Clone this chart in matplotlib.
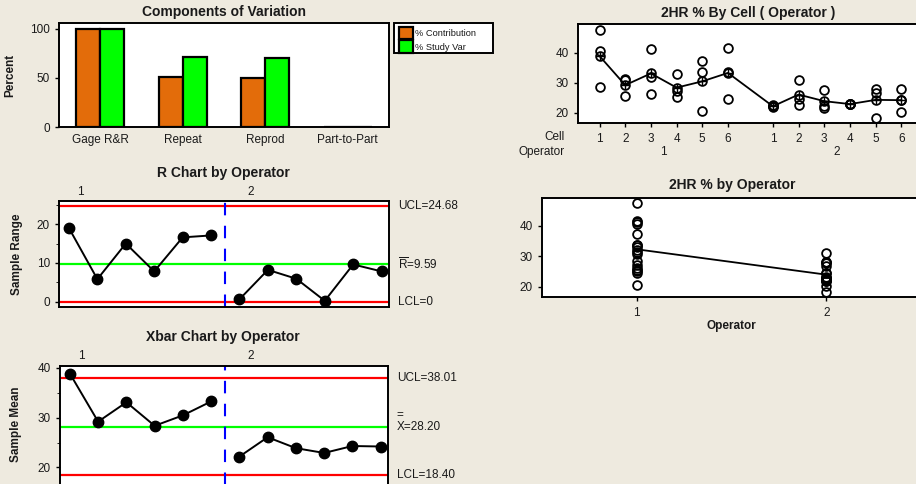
import numpy as np
import matplotlib
matplotlib.use('Agg')
import matplotlib.pyplot as plt
from matplotlib.patches import Rectangle
from matplotlib.transforms import blended_transform_factory, offset_copy

plt.rcParams['font.family'] = ['Liberation Sans', 'DejaVu Sans']

W, H = 916, 484
BG = '#EEEADF'
ORANGE = '#E36C0A'
GREEN = '#00FF00'
RED = '#FF0000'
BLUE = '#0000FF'
TXT = '#1a1a1a'

# components of variation, percent
components = ['Gage R&R', 'Repeat', 'Reprod', 'Part-to-Part']
pct_contribution = [100.0, 50.5, 49.5, 0.0]
pct_study_var = [100.0, 71.1, 70.4, 0.0]
legend_labels = ['% Contribution', '% Study Var']

# 2HR % readings, 3 trials per cell, cells 1-6 per operator
operators = [1, 2]
cells = [1, 2, 3, 4, 5, 6]
op1_readings = [
    [47.5, 40.6, 28.5],
    [31.3, 30.8, 25.5],
    [41.2, 31.9, 26.2],
    [32.9, 27.1, 25.1],
    [37.2, 33.6, 20.6],
    [41.6, 33.7, 24.5],
]
op2_readings = [
    [22.5, 22.1, 21.9],
    [30.9, 24.6, 22.7],
    [27.6, 22.3, 21.7],
    [23.0, 22.9, 22.8],
    [27.9, 26.7, 18.3],
    [28.0, 24.4, 20.2],
]

# control limits
r_ucl, r_bar, r_lcl = 24.68, 9.59, 0.0
x_ucl, x_bar, x_lcl = 38.01, 28.20, 18.40

readings = np.array([op1_readings, op2_readings])
cell_means = readings.mean(axis=2)
cell_ranges = readings.max(axis=2) - readings.min(axis=2)
op_means = readings.mean(axis=(1, 2))


def box(l, t, r, b):
    return [l / W, 1 - b / H, (r - l) / W, (b - t) / H]


def fx(x):
    return x / W


def fy(y):
    return 1 - y / H


def style(ax):
    ax.set_facecolor('white')
    for s in ax.spines.values():
        s.set_linewidth(1.4)
        s.set_color('black')
    ax.tick_params(labelsize=8.5, labelcolor=TXT, length=3, width=1, direction='out')


fig = plt.figure(figsize=(W / 100, H / 100), dpi=100, facecolor=BG)

# --- components of variation
ax = fig.add_axes(box(59, 23, 389, 127))
style(ax)
x = np.arange(1, len(components) + 1)
w = 0.29
ax.bar(x - w / 2, pct_contribution, w, color=ORANGE, edgecolor='black', lw=1.6)
ax.bar(x + w / 2, pct_study_var, w, color=GREEN, edgecolor='black', lw=1.6)
ax.set_xlim(0.5, 4.5)
ax.set_ylim(0, 106)
ax.set_yticks([0, 50, 100])
ax.set_xticks(x, components)
ax.tick_params(axis='x', length=0, pad=5)
ax.set_ylabel('Percent', fontweight='bold', fontsize=8.5, color=TXT)
ax.yaxis.set_label_coords(-0.13, 0.5)
fig.text(fx(224), fy(12), 'Components of Variation', ha='center', va='center',
         fontsize=10, fontweight='bold', color=TXT)

# legend box drawn by hand so it keeps its width
fig.patches.append(Rectangle((fx(394), fy(53)), fx(99), 30 / H, transform=fig.transFigure,
                             facecolor='white', edgecolor='black', lw=1.4))
for i, (lab, col) in enumerate(zip(legend_labels, [ORANGE, GREEN])):
    top = 27 + i * 13.5
    fig.patches.append(Rectangle((fx(399), fy(top + 12)), fx(14), 12 / H, transform=fig.transFigure,
                                 facecolor=col, edgecolor='black', lw=1.6))
    fig.text(fx(415), fy(top + 6.5), lab, ha='left', va='center', fontsize=6.7, color=TXT)

samples = np.arange(1, 13)


def chart(ax, values, ucl, center, lcl, labels):
    style(ax)
    ax.axhline(ucl, color=RED, lw=1.6, zorder=1)
    ax.axhline(center, color=GREEN, lw=1.6, zorder=1)
    ax.axhline(lcl, color=RED, lw=1.6, zorder=1)
    ax.axvline(6.5, color=BLUE, lw=1.5, ls=(0, (6, 5)), zorder=1)
    for j in range(len(operators)):
        ax.plot(samples[j * 6:(j + 1) * 6], values[j], 'o-', color='black', ms=7.5, lw=1.4, zorder=3)
    ax.set_xlim(0.65, 12.26)
    ax.set_xticks([])
    tr = blended_transform_factory(ax.transAxes, ax.transData)
    for j, op in enumerate(operators):
        ax.text(j * 6 + 1.4, 1.085, str(op), transform=blended_transform_factory(ax.transData, ax.transAxes),
                ha='center', va='center', fontsize=8.5, color=TXT)
    for val, lab in zip([ucl, center, lcl], labels):
        ax.text(1.027, val, lab, transform=tr, ha='left', va='center', fontsize=8.5, color=TXT)
    return tr


# --- R chart
ax = fig.add_axes(box(59, 201, 389, 307))
chart(ax, cell_ranges, r_ucl, r_bar, r_lcl,
      ['UCL=%.2f' % r_ucl, r'$\mathregular{\overline{R}}$=%.2f' % r_bar, 'LCL=%g' % r_lcl])
ax.set_ylim(-1.4, 26.0)
ax.set_yticks([0, 10, 20])
ax.set_yticks([5, 15, 25], minor=True)
ax.tick_params(axis='y', which='minor', length=2)
ax.set_ylabel('Sample Range', fontweight='bold', fontsize=8.5, color=TXT)
ax.yaxis.set_label_coords(-0.11, 0.5)
fig.text(fx(223), fy(173), 'R Chart by Operator', ha='center', va='center',
         fontsize=10, fontweight='bold', color=TXT)

# --- Xbar chart
ax = fig.add_axes(box(60, 366, 388, 487))
tr = chart(ax, cell_means, x_ucl, x_bar, x_lcl,
           ['UCL=%.2f' % x_ucl, 'X=%.2f' % x_bar, 'LCL=%.2f' % x_lcl])
ax.text(1.027, x_bar, '=', transform=offset_copy(tr, fig=fig, y=12, units='dots'),
        ha='left', va='center', fontsize=8.5, color=TXT)
ax.set_ylim(16.05, 40.4)
ax.set_yticks([20, 30, 40])
ax.set_yticks([25, 35], minor=True)
ax.tick_params(axis='y', which='minor', length=2)
ax.set_ylabel('Sample Mean', fontweight='bold', fontsize=8.5, color=TXT)
ax.yaxis.set_label_coords(-0.115, 0.52)
fig.text(fx(223), fy(337), 'Xbar Chart by Operator', ha='center', va='center',
         fontsize=10, fontweight='bold', color=TXT)

# --- readings by cell within operator
ax = fig.add_axes(box(578, 24, 918, 123))
style(ax)
gap = 6.75
pos = np.array([np.array(cells) + j * gap for j in range(len(operators))])
for j in range(len(operators)):
    for k in range(len(cells)):
        ax.plot([pos[j, k]] * readings.shape[2], readings[j, k], 'o', mfc='none', mec='black',
                ms=6.3, mew=1.3)
ax.plot(pos.ravel(), cell_means.ravel(), '-', color='black', lw=1.3)
ax.plot(pos.ravel(), cell_means.ravel(), 'o', mfc='none', mec='black', ms=6.3, mew=1.3)
ax.plot(pos.ravel(), cell_means.ravel(), '+', color='black', ms=6.3, mew=1.0)
ax.set_xlim(0.16, 13.4)
ax.set_ylim(16.6, 49.55)
ax.set_yticks([20, 30, 40])
ax.set_xticks(pos.ravel(), [str(c) for c in cells] * len(operators))
ax.tick_params(axis='x', pad=4)
bt = blended_transform_factory(ax.transData, ax.transAxes)
for j, op in enumerate(operators):
    ax.text(pos[j].mean(), -0.296, str(op), transform=bt, ha='center', va='center',
            fontsize=8.5, color=TXT)
ax.text(-0.038, -0.14, 'Cell', transform=ax.transAxes, ha='right', va='center', fontsize=8.5, color=TXT)
ax.text(-0.038, -0.296, 'Operator', transform=ax.transAxes, ha='right', va='center', fontsize=8.5, color=TXT)
fig.text(fx(748), fy(13), '2HR % By Cell ( Operator )', ha='center', va='center',
         fontsize=10, fontweight='bold', color=TXT)

# --- readings by operator
ax = fig.add_axes(box(542, 198, 921, 297))
style(ax)
for j, op in enumerate(operators):
    vals = readings[j].ravel()
    ax.plot([op] * len(vals), vals, 'o', mfc='none', mec='black', ms=6.3, mew=1.3)
ax.plot(operators, op_means, '-', color='black', lw=1.3)
ax.set_xlim(0.5, 2.5)
ax.set_ylim(16.6, 49.0)
ax.set_yticks([20, 30, 40])
ax.set_xticks(operators)
ax.tick_params(axis='x', pad=4)
ax.text(0.5, -0.29, 'Operator', transform=ax.transAxes, ha='center', va='center',
        fontsize=8.5, fontweight='bold', color=TXT)
fig.text(fx(732), fy(185), '2HR % by Operator', ha='center', va='center',
         fontsize=10, fontweight='bold', color=TXT)

fig.savefig('out.png', dpi=100, facecolor=BG)
